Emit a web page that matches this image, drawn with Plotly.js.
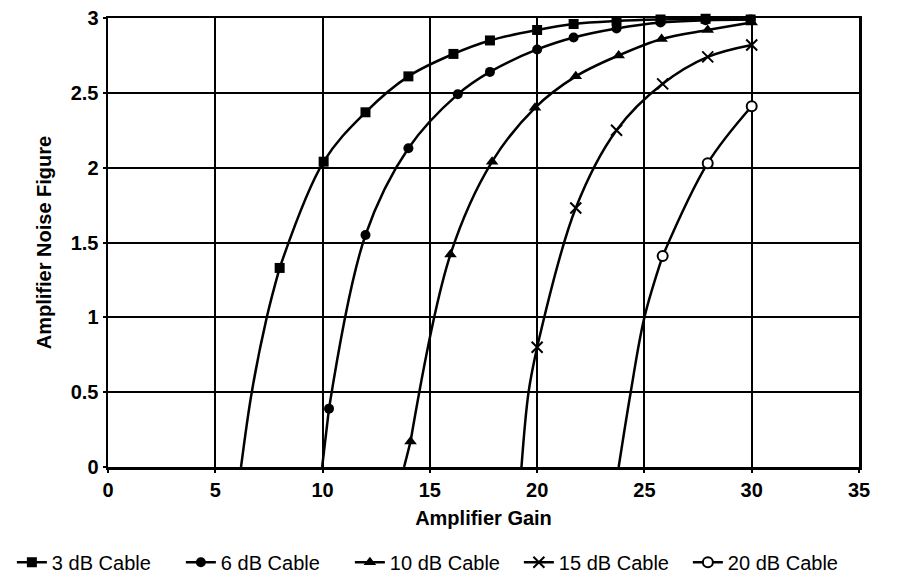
<!DOCTYPE html>
<html>
<head>
<meta charset="utf-8">
<script src="https://cdn.plot.ly/plotly-3.0.1.min.js"></script>
<style>
  html, body { margin: 0; padding: 0; background: #ffffff; }
  #chart { width: 899px; height: 577px; }
</style>
</head>
<body>
<div id="chart"></div>
<script>
// ---- Data ----
const seriesNames = ["3 dB Cable", "6 dB Cable", "10 dB Cable", "15 dB Cable", "20 dB Cable"];

// marker points (Amplifier Gain, Amplifier Noise Figure)
const gain3 = [8.0, 10.05, 12.0, 14.0, 16.1, 17.8, 20.0, 21.7, 23.7, 25.75, 27.85, 29.95];
const nf3   = [1.33, 2.04, 2.37, 2.61, 2.76, 2.85, 2.92, 2.96, 2.98, 2.99, 2.995, 2.99];

const gain6 = [10.3, 12.0, 14.0, 16.3, 17.8, 20.0, 21.7, 23.7, 25.75, 27.85, 29.95];
const nf6   = [0.39, 1.55, 2.13, 2.49, 2.64, 2.79, 2.87, 2.93, 2.97, 2.985, 2.99];

const gain10 = [14.1, 15.96, 17.9, 19.9, 21.8, 23.8, 25.8, 27.95, 30.0];
const nf10   = [0.17, 1.42, 2.04, 2.40, 2.61, 2.75, 2.86, 2.92, 2.97];

const gain15 = [20.0, 21.8, 23.7, 25.85, 27.95, 30.0];
const nf15   = [0.80, 1.73, 2.25, 2.56, 2.74, 2.82];

const gain20 = [25.85, 27.95, 30.0];
const nf20   = [1.41, 2.03, 2.41];

// curve continuation below the first marker (gridline crossings)
const tailGain3 = [6.2, 6.7, 7.4];
const tailNf3   = [0, 0.5, 1.0];
const tailGain6 = [9.98];
const tailNf6   = [0];
const tailGain10 = [13.8];
const tailNf10   = [0];
const tailGain15 = [19.27, 19.6];
const tailNf15   = [0, 0.5];
const tailGain20 = [23.8, 24.36, 25.0];
const tailNf20   = [0, 0.5, 1.0];

const xTicks = [0, 5, 10, 15, 20, 25, 30, 35];
const yTicks = [0, 0.5, 1, 1.5, 2, 2.5, 3];

// ---- Build traces ----
const FONT = "Liberation Sans, Arial, Helvetica, sans-serif";
const LINE_W = 2.5;

const groups = [
  {name: seriesNames[0], x: gain3,  y: nf3,  tx: tailGain3,  ty: tailNf3,
   marker: {symbol: "square", size: 10, color: "#000", line: {width: 0}}},
  {name: seriesNames[1], x: gain6,  y: nf6,  tx: tailGain6,  ty: tailNf6,
   marker: {symbol: "circle", size: 10, color: "#000", line: {width: 0}}},
  {name: seriesNames[2], x: gain10, y: nf10, tx: tailGain10, ty: tailNf10,
   marker: {symbol: "triangle-up", size: 11, color: "#000", line: {width: 0}}},
  {name: seriesNames[3], x: gain15, y: nf15, tx: tailGain15, ty: tailNf15,
   marker: {symbol: "x-thin-open", size: 11, color: "#000", line: {width: 2, color: "#000"}}},
  {name: seriesNames[4], x: gain20, y: nf20, tx: tailGain20, ty: tailNf20,
   marker: {symbol: "circle", size: 10, color: "#fff", line: {width: 2, color: "#000"}}}
];

const traces = [];
groups.forEach(g => {
  // lower continuation of the curve (no markers)
  traces.push({
    type: "scatter", mode: "lines",
    x: g.tx.concat([g.x[0]]), y: g.ty.concat([g.y[0]]),
    line: {color: "#000", width: LINE_W, shape: "spline", smoothing: 1},
    showlegend: false, hoverinfo: "skip"
  });
});
groups.forEach(g => {
  traces.push({
    type: "scatter", mode: "lines+markers", name: g.name,
    x: g.x, y: g.y,
    line: {color: "#000", width: LINE_W, shape: "spline", smoothing: 1},
    marker: g.marker,
    cliponaxis: false
  });
});

const axisCommon = {
  showgrid: true, gridcolor: "#000", gridwidth: 2,
  showline: true, linecolor: "#000", linewidth: 2.5, mirror: true,
  zeroline: false,
  ticks: "outside", ticklen: 3, tickwidth: 2, tickcolor: "#000",
  tickfont: {family: FONT, size: 20, color: "#000", weight: "bold"},
  fixedrange: true
};

const layout = {
  width: 899, height: 577,
  margin: {l: 108, r: 40, t: 18, b: 110, pad: 0, autoexpand: false},
  paper_bgcolor: "#fff", plot_bgcolor: "#fff",
  font: {family: FONT, color: "#000"},
  xaxis: Object.assign({}, axisCommon, {
    range: [0, 35], tickmode: "array", tickvals: xTicks, ticktext: xTicks.map(String),
    title: {text: "Amplifier Gain", font: {family: FONT, size: 20, color: "#000", weight: "bold"}, standoff: 12}
  }),
  yaxis: Object.assign({}, axisCommon, {
    range: [0, 3], tickmode: "array", tickvals: yTicks, ticktext: yTicks.map(String),
    title: {text: "Amplifier Noise Figure", font: {family: FONT, size: 20, color: "#000", weight: "bold"}, standoff: 14}
  }),
  legend: {
    orientation: "h", x: -0.128, xanchor: "left", y: -0.212, yanchor: "middle",
    font: {family: FONT, size: 20, color: "#000"},
    bgcolor: "rgba(0,0,0,0)", borderwidth: 0,
    entrywidth: 124, entrywidthmode: "pixels",
    tracegroupgap: 0
  },
  showlegend: true
};

Plotly.newPlot("chart", traces, layout, {displayModeBar: false, staticPlot: true});
</script>
</body>
</html>
